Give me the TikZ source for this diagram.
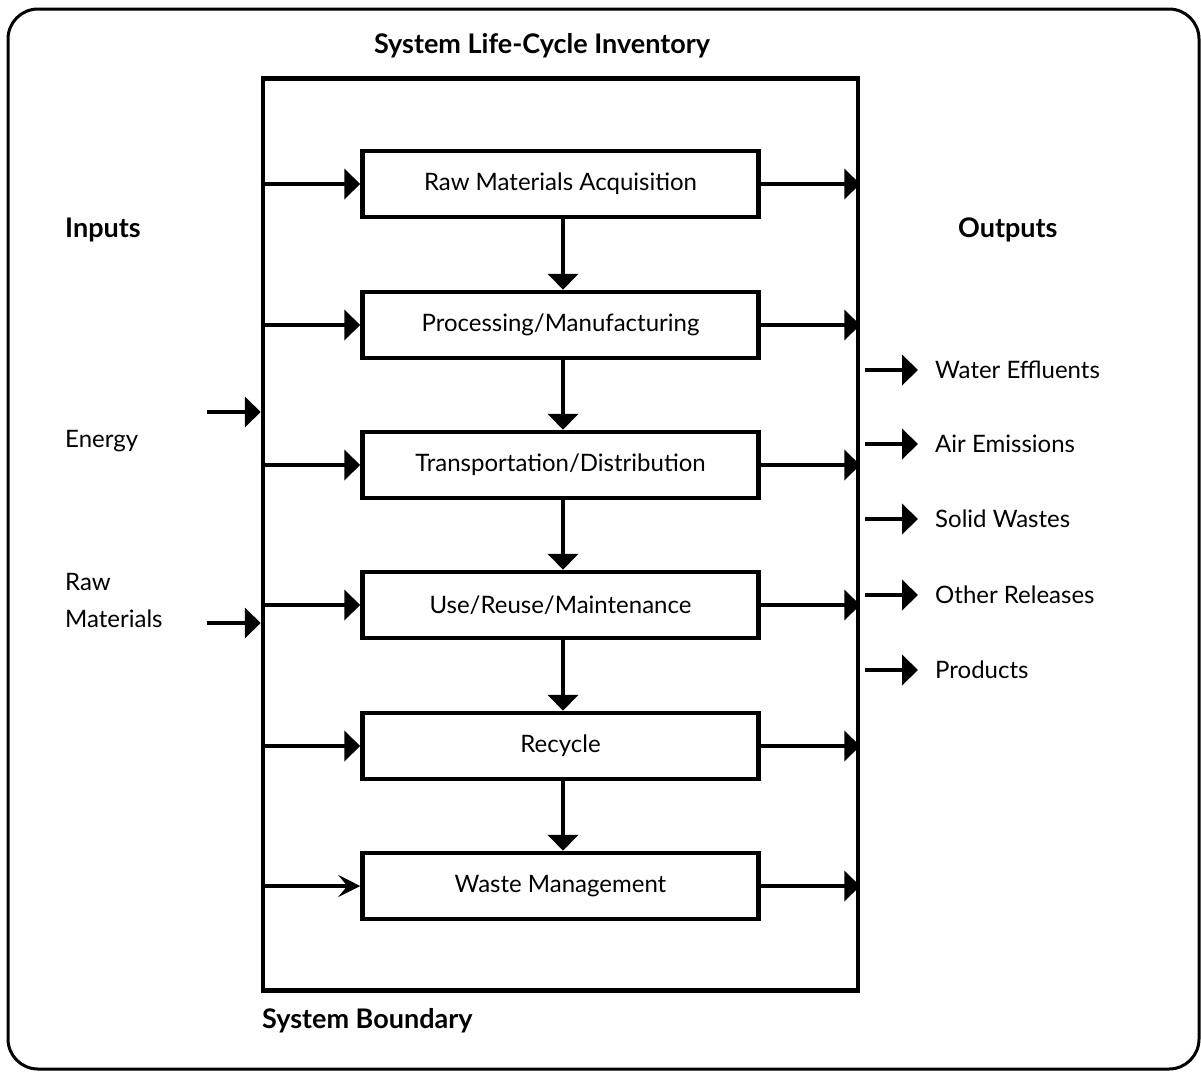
\documentclass[tikz,border=0pt]{standalone}
\usepackage{fontspec}
\setmainfont{Lato}
\usetikzlibrary{arrows.meta}
\begin{document}
\begin{tikzpicture}[x=1pt,y=-1pt,
  stagebox/.style={draw,line width=4.5pt,minimum width=396pt,minimum height=66pt,inner sep=0pt,font=\fontsize{24}{28}\selectfont},
  lbl/.style={anchor=west,inner sep=0pt,font=\fontsize{24}{37}\selectfont},
  hd/.style={inner sep=0pt,font=\bfseries\fontsize{27}{32}\selectfont},
  arr/.style={line width=4.5pt,-{Triangle[length=16pt,width=30pt]}},
  thinarr/.style={line width=3.5pt,-{Stealth[length=22pt,width=22pt,inset=9pt]}}]
\useasboundingbox (0,0) rectangle (1201,1071);
\draw[line width=3pt,rounded corners=30pt] (8,9) rectangle (1199,1069);
\node[draw,line width=4.5pt,minimum width=595pt,minimum height=912pt,inner sep=0pt] (sb) at (560.5,534.5) {};
\node[hd] (title) at (542,46) {System Life-Cycle Inventory};
\node[hd,anchor=west] (sblabel) at (262,1021) {System Boundary};
\node[hd,anchor=west] (inputs) at (65,230) {Inputs};
\node[hd,anchor=west] (outputs) at (958,230) {Outputs};

\node[stagebox] (s1) at (560.5,184) {Raw Materials Acquisition};
\node[stagebox] (s2) at (560.5,325) {Processing/Manufacturing};
\node[stagebox] (s3) at (560.5,465) {Transportation/Distribution};
\node[stagebox] (s4) at (560.5,605) {Use/Reuse/Maintenance};
\node[stagebox] (s5) at (560.5,746) {Recycle};
\node[stagebox] (s6) at (560.5,886) {Waste Management};

\foreach \i in {1,...,5}{
  \draw[arr] (s\i.west -| sb.west) -- (s\i.west);
}
\draw[thinarr] (s6.west -| sb.west) -- (s6.west);
\foreach \i in {1,...,6}{
  \draw[arr] (s\i.east) -- (s\i.east -| sb.east);
}
\foreach \i/\j in {1/2,2/3,3/4,4/5,5/6}{
  \draw[arr] (s\i.south -| 563,0) -- (s\j.north -| 563,0);
}

\node[lbl] (energy) at (65,441) {Energy};
\node[lbl,align=left] (raw) at (65,600) {Raw\\Materials};
\coordinate (e0) at (207,412);
\coordinate (r0) at (207,623);
\draw[arr] (e0) -- (e0 -| sb.west);
\draw[arr] (r0) -- (r0 -| sb.west);

\foreach \n/\y/\t in {o1/370/Water Effluents,o2/444/Air Emissions,o3/519/Solid Wastes,o4/595/Other Releases,o5/670/Products}{
  \coordinate (\n s) at (865,\y);
  \coordinate (\n e) at (918,\y);
  \node[lbl] (\n) at (935,\y) {\t};
  \draw[arr] (\n s) -- (\n e);
}
\end{tikzpicture}
\end{document}
